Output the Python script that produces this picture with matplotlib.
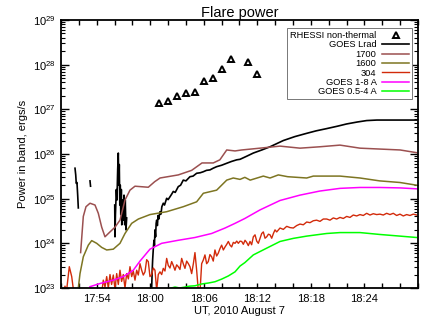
import numpy as np
import matplotlib
matplotlib.use("Agg")
import matplotlib.pyplot as plt
from matplotlib.ticker import FixedLocator, MultipleLocator, FuncFormatter, LogLocator, NullFormatter

plt.rcParams['font.family'] = ['Liberation Sans', 'DejaVu Sans']

# time axis: minutes after 17:50 UT, 2010 August 7
t0_hour, t0_min = 17, 50

# RHESSI non-thermal (triangles)
t_rhessi = [11, 12, 13, 14, 15, 16, 17, 18, 19, 21, 22]
p_rhessi = [1.41e27, 1.5e27, 1.95e27, 2.3e27, 2.5e27, 4.3e27, 4.9e27, 7.8e27, 1.32e28, 1.13e28, 6.2e27]

# GOES Lrad (gaps as nan)
t_lrad = [1.57, 1.65, 1.71, 1.79, 1.87, 1.94, np.nan,
          3.25, 3.31, np.nan,
          6.02, 6.05, 6.10, 6.20, 6.27, 6.35, 6.42, 6.48, 6.53, 6.59, 6.64, 6.70,
          6.76, 6.81, 6.89, 6.98, 7.06, 7.14, 7.20, 7.28, 7.36, np.nan,
          10.10, 10.16, 10.22, 10.27, 10.35, 10.42, 10.47, 10.53, 10.60, 10.66, 10.72,
          10.80, 10.88, 10.96, 11.09, 11.20, 11.30, 11.46, 11.60, 11.84, 12.00, 12.21,
          12.40, 12.58, 12.80, 13.14, 13.40, 13.70, 14.00, 14.45, 14.80, 15.20, 15.60,
          15.94, 16.30, 16.69, 17.05, 17.44, 18.00, 18.57, 19.10, 19.69, 20.06, 20.80,
          21.55, 22.50, 23.42, 24.91, 26.20, 27.53, 28.60, 29.77, 31.00, 32.00, 33.20,
          34.25, 35.40, 36.50, 38.00, 39.85]
p_lrad = [4.8e25, 3.4e25, 2.2e25, 2.3e25, 1.2e25, 6.2e24, np.nan,
          2.5e25, 1.9e25, np.nan,
          7.2e24, 1.4e24, 4.4e24, 1.6e25, 9.3e24, 4.4e25, 1.05e26, 2.0e25, 5.8e25, 7.2e24,
          2.0e25, 4.4e24, 1.6e25, 2.6e24, 9.3e24, 3.3e24, 1.2e25, 2.6e24, 9.3e24, 2.0e24,
          3.7e24, np.nan,
          7.9e22, 1.0e23, 2.5e23, 4.3e23, 7.9e23, 1.17e24, 8.9e23, 2.0e24, 1.4e24, 2.8e24,
          3.3e24, 2.5e24, 4.2e24, 3.5e24, 5.1e24, 4.5e24, 6.6e24, 7.9e24, 7.2e24, 1.02e25,
          9.5e24, 1.1e25, 1.26e25, 1.45e25, 1.38e25, 1.86e25, 2.0e25, 2.6e25, 2.5e25,
          3.1e25, 3.2e25, 3.7e25, 3.8e25, 4.0e25, 4.3e25, 4.4e25, 4.8e25, 5.2e25, 5.6e25,
          6.2e25, 6.8e25, 7.4e25, 7.6e25, 8.9e25, 1.05e26, 1.23e26, 1.45e26, 2.0e26,
          2.45e26, 2.9e26, 3.3e26, 3.7e26, 4.2e26, 4.7e26, 5.2e26, 5.6e26, 5.75e26,
          5.75e26, 5.75e26, 5.75e26]

# AIA 1700
t_1700 = [2.2, 2.5, 2.8, 3.25, 3.81, 4.18, 4.56, 4.93, 5.49, 6.05, 6.61, 7.17, 7.73,
          8.29, 9.78, 10.5, 11.1, 13.14, 14.64, 15.8, 17.06, 17.8, 18.57, 19.5, 20.25,
          22.3, 24.54, 26.78, 29.0, 31.26, 33.5, 35.7, 38.0, 39.85]
p_1700 = [6.2e23, 4.0e24, 6.6e24, 7.9e24, 7.2e24, 4.7e24, 2.3e24, 1.4e24, 1.8e24, 2.3e24,
          3.3e24, 9.3e24, 1.55e25, 1.9e25, 1.8e25, 2.4e25, 2.9e25, 3.4e25, 4.3e25, 6.3e25,
          6.3e25, 7.4e25, 1.23e26, 1.17e26, 1.23e26, 1.35e26, 1.5e26, 1.35e26, 1.45e26,
          1.58e26, 1.35e26, 1.29e26, 1.23e26, 1.07e26]

# AIA 1600
t_1600 = [1.94, 2.13, 2.5, 3.06, 3.44, 4.0, 4.56, 5.12, 5.86, 6.61, 7.17, 7.92, 8.67,
          9.97, 11.84, 13.7, 15.2, 15.95, 17.44, 18.57, 19.3, 20.06, 20.6, 21.2, 22.67,
          23.42, 24.35, 25.4, 27.53, 28.27, 31.26, 33.5, 35.7, 37.98, 39.85]
p_1600 = [1.0e23, 2.1e23, 5.0e23, 9.1e23, 1.15e24, 1.0e24, 8.1e23, 7.1e23, 7.4e23, 1.0e24,
          1.66e24, 2.8e24, 3.5e24, 4.4e24, 5.1e24, 6.6e24, 8.5e24, 1.32e25, 1.55e25, 2.6e25,
          2.9e25, 2.7e25, 3.0e25, 2.6e25, 3.2e25, 2.9e25, 3.4e25, 3.1e25, 2.9e25, 3.2e25,
          3.2e25, 2.9e25, 2.5e25, 2.3e25, 2.0e25]

# AIA 304
t_304 = [0.34, 0.45, 0.60, 0.93, 1.20, 1.38, 1.60, 3.00, 4.50, 4.74, 4.93, 5.12, 5.30,
         5.49, 5.67, 5.86, 6.05, 6.24, 6.42, 6.61, 6.79, 6.98, 7.17, 7.36, 7.55, 7.73,
         7.92, 8.10, 8.29, 8.48, 8.66, 8.85, 9.04, 9.22, 9.41, 9.60, 9.78, 9.97, 10.16,
         10.34, 10.53, 10.72, 10.90, 11.09, 11.28, 11.46, 11.65, 11.84, 12.02, 12.21,
         12.40, 12.58, 12.77, 12.96, 13.14, 13.33, 13.52, 13.70, 13.89, 14.08, 14.27,
         14.45, 14.64, 14.83, 15.01, 15.20, 15.38, 15.57, 15.76, 15.94, 16.13, 16.32,
         16.50, 16.69, 16.88, 17.06, 17.25, 17.44, 17.62, 17.81, 18.00, 18.19, 18.38,
         18.57, 18.75, 18.94, 19.12, 19.31, 19.50, 19.69, 19.87, 20.06, 20.25, 20.43,
         20.62, 20.80, 20.99, 21.18, 21.36, 21.55, 21.74, 21.93, 22.11, 22.30, 22.49,
         22.67, 22.86, 23.05, 23.24, 23.42, 23.61, 23.80, 23.98, 24.17, 24.54, 24.91,
         25.29, 25.66, 26.03, 26.41, 26.78, 27.15, 27.53, 27.90, 28.27, 28.64, 29.02,
         29.39, 29.77, 30.14, 30.51, 30.89, 31.26, 31.63, 32.01, 32.38, 32.75, 33.13,
         33.50, 33.87, 34.25, 34.62, 34.99, 35.37, 35.74, 36.11, 36.49, 36.86, 37.23,
         37.61, 37.98, 38.35, 38.73, 39.10, 39.47, 39.85]
p_304 = [8.9e22, 1.1e23, 7.9e22, 3.0e23, 1.8e23, 9.5e22, 3.2e22, 3.2e22, 6.3e22, 1.5e23,
         1.05e23, 1.8e23, 1.0e23, 2.0e23, 1.2e23, 1.95e23, 9.5e22, 2.1e23, 1.2e23, 2.5e23,
         1.4e23, 2.0e23, 1.0e23, 2.1e23, 1.6e23, 3.0e23, 1.8e23, 2.4e23, 1.5e23, 2.5e23,
         1.95e23, 3.5e23, 2.5e23, 1.95e23, 2.3e23, 4.3e23, 3.9e23, 1.8e23, 2.0e23, 2.8e23,
         2.5e23, 8.9e22, 2.0e23, 2.3e23, 2.0e23, 2.75e23, 2.4e23, 4.6e23, 3.2e23, 2.8e23,
         3.9e23, 3.2e23, 2.5e23, 3.3e23, 3.0e23, 2.6e23, 4.6e23, 3.5e23, 2.75e23, 4.0e23,
         3.5e23, 3.0e23, 2.1e23, 3.5e23, 6.2e23, 2.5e23, 8.9e22, 7.9e22, 3.5e23, 4.2e23,
         5.5e23, 3.5e23, 3.9e23, 5.6e23, 5.0e23, 4.0e23, 7.1e23, 5.2e23, 6.0e23, 7.6e23,
         9.1e23, 7.1e23, 8.3e23, 9.5e23, 1.1e24, 9.1e23, 8.3e23, 1.05e24, 1.0e24, 1.12e24,
         1.0e24, 1.12e24, 1.1e24, 9.5e23, 1.17e24, 1.05e24, 8.9e23, 1.1e24, 9.3e23, 1.4e24,
         1.55e24, 1.12e24, 1.0e24, 1.3e24, 1.66e24, 1.8e24, 1.3e24, 1.4e24, 1.6e24, 1.55e24,
         1.3e24, 1.66e24, 2.0e24, 1.8e24, 2.2e24, 2.05e24, 2.4e24, 2.25e24, 2.2e24, 2.5e24,
         2.7e24, 2.6e24, 3.0e24, 2.9e24, 3.2e24, 3.3e24, 3.1e24, 3.5e24, 3.5e24, 3.3e24,
         3.7e24, 3.5e24, 3.8e24, 3.6e24, 4.0e24, 3.8e24, 4.3e24, 4.1e24, 4.4e24, 4.2e24,
         4.7e24, 4.3e24, 4.6e24, 4.4e24, 4.5e24, 4.3e24, 4.7e24, 4.4e24, 4.7e24, 4.2e24,
         4.5e24, 4.1e24, 4.4e24, 4.2e24, 4.5e24, 4.3e24]

# GOES 1-8 A
t_goes18 = [3.25, 4.37, 5.86, 6.98, 8.1, 8.85, 9.97, 11.28, 13.14, 15.01, 16.88, 18.38,
            19.5, 20.6, 22.3, 24.54, 26.78, 29.0, 31.26, 33.5, 35.7, 38.0, 39.85]
p_goes18 = [1.07e23, 1.26e23, 1.5e23, 1.8e23, 2.5e23, 4.0e23, 7.4e23, 1.0e24, 1.17e24,
            1.35e24, 1.66e24, 2.2e24, 2.8e24, 3.6e24, 5.6e24, 9.1e24, 1.2e25, 1.48e25,
            1.7e25, 1.78e25, 1.78e25, 1.74e25, 1.66e25]

# GOES 0.5-4 A
t_goes054 = [12.21, 12.77, 13.3, 13.89, 14.4, 15.01, 15.76, 16.5, 17.25, 18.0, 18.75,
             19.5, 20.06, 20.6, 21.55, 23.05, 24.54, 26.03, 27.53, 29.77, 31.26, 33.5,
             35.7, 37.98, 39.85]
p_goes054 = [9.8e22, 1.05e23, 1.0e23, 1.05e23, 1.1e23, 1.12e23, 1.23e23, 1.29e23, 1.38e23,
             1.58e23, 1.86e23, 2.3e23, 3.1e23, 3.7e23, 5.5e23, 7.8e23, 1.1e24, 1.29e24,
             1.45e24, 1.66e24, 1.74e24, 1.74e24, 1.58e24, 1.45e24, 1.35e24]

tick_minutes = [4, 10, 16, 22, 28, 34]

fig = plt.figure(figsize=(4.36, 3.27), dpi=100)
ax = fig.add_axes([0.1399, 0.1193, 0.8188, 0.8196])

ax.plot(t_rhessi, p_rhessi, linestyle='none', marker='^', markersize=5,
        markerfacecolor='white', markeredgecolor='black', markeredgewidth=1.4,
        label='RHESSI non-thermal')
ax.plot(t_lrad, p_lrad, color='black', lw=1.2, label='GOES Lrad')
ax.plot(t_1700, p_1700, color='#9b5050', lw=1.1, label='1700')
ax.plot(t_1600, p_1600, color='#7d7522', lw=1.1, label='1600')
ax.plot(t_304, p_304, color='#d22a0a', lw=1.0, label='304')
ax.plot(t_goes18, p_goes18, color='#ff00ff', lw=1.1, label='GOES 1-8 A')
ax.plot(t_goes054, p_goes054, color='#00ff00', lw=1.1, label='GOES 0.5-4 A')

ax.set_yscale('log')
ax.set_ylim(1e23, 1e29)
ax.set_xlim(0, 40)

def fmt_time(m, pos):
    tot = t0_hour * 60 + t0_min + int(round(m))
    return '%02d:%02d' % (tot // 60, tot % 60)

ax.xaxis.set_major_locator(FixedLocator(tick_minutes))
ax.xaxis.set_major_formatter(FuncFormatter(fmt_time))
ax.xaxis.set_minor_locator(MultipleLocator(2))
ax.yaxis.set_major_locator(LogLocator(base=10, numticks=10))
ax.yaxis.set_minor_locator(LogLocator(base=10, subs=np.arange(2, 10), numticks=20))
ax.yaxis.set_minor_formatter(NullFormatter())

ax.tick_params(which='both', direction='in', top=True, right=True, labelsize=8, pad=4)
ax.tick_params(axis='y', which='major', length=5.5, width=1.0)
ax.tick_params(axis='y', which='minor', length=3, width=0.8)
ax.tick_params(axis='x', which='major', length=3.5, width=1.0)
ax.tick_params(axis='x', which='minor', length=3.5, width=1.0)
for s in ax.spines.values():
    s.set_linewidth(1.3)

ax.set_title('Flare power', fontsize=10.5, pad=1)
ax.set_xlabel('UT, 2010 August 7', fontsize=8, labelpad=1.5)
ax.set_ylabel('Power in band, ergs/s', fontsize=8, labelpad=3)

leg = ax.legend(loc='upper right', bbox_to_anchor=(0.984, 0.969), borderaxespad=0,
                markerfirst=False, fontsize=6.7, labelspacing=0.04, handlelength=3.0,
                handletextpad=0.55, borderpad=0.3, fancybox=False, framealpha=1,
                edgecolor='#777777')
leg.get_frame().set_linewidth(0.7)

fig.savefig('out.png', dpi=100)
